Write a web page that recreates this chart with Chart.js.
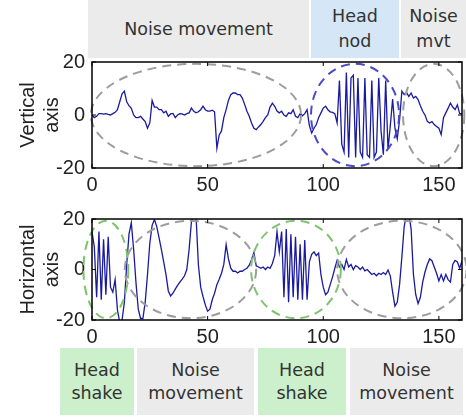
<!DOCTYPE html>
<html>
<head>
<meta charset="utf-8">
<script src="https://cdn.jsdelivr.net/npm/chart.js@4.4.1/dist/chart.umd.min.js"></script>
<style>
  body { margin: 0; background: #fff; }
  #page { position: relative; width: 466px; height: 418px; overflow: hidden; }
  .band { position: absolute; display: flex; flex-direction: column; align-items: center; justify-content: center;
          text-align: center; font-family: 'DejaVu Sans', sans-serif; font-size: 17.5px; color: #333; }
  .noise { background: #ebebeb; }
  .nod { background: #d5e6f7; }
  .shake { background: #cbf0cb; }
  canvas { position: absolute; left: 0; }
</style>
</head>
<body>
<div id="page">
  <canvas id="vert" width="466" height="200" style="top:0"></canvas>
  <canvas id="horiz" width="466" height="148" style="top:200px"></canvas>
</div>
<script>
// head-tracking signals, one sample per time step 0..160
const vertical = [
  0, -1, -0.5, 0.5, 0.5, 0.3, 0.5, 0.2, 0, 0.5,
  1, 2, 5, 8, 9, 5, 3.5, 2.5, 0, -1,
  -1, -0.5, -1.5, -2.5, -5, -3, 5.5, 3, 3, 2,
  2, 0.8, 1.4, -0.5, 0.4, 0.6, -1, 0, 0.5, 0.4,
  0, 0.5, 0.8, 2.6, 1.4, 0.8, 1.2, 2, 3.3, 2,
  1.5, 1.5, 1.8, 1.2, -12.5, -7.5, -6, -1, 2, 5.5,
  7.7, 8.3, 8.3, 7.7, 7.7, 6.4, 4, 1.4, -0.5, -3,
  -5, -5.5, -4.5, -3.6, -2.4, -1, 0, 3, 4.5, 3.3,
  1.5, 0.8, 1.4, 0, -0.5, 0.8, 0.5, 2, -0.5, -1,
  0.5, -0.3, 0.5, 2, -4, -6.8, -5, -3.6, -1, 0.8,
  2.6, 3.3, 2, 1.2, 1, 0.5, -3, 13, -11, -14,
  16, -16, 14, 15, -16, 14, -14, -16, 14, -15,
  -16, 13, -16, -14, 14, -6, -15, 13, -13, -4,
  6, -5, -9, -2, 9, 7.7, 8.5, 7, 8.3, 6.4,
  7, 5.8, 3.5, 1.4, 0, -2.4, -3, -2.5, -3.6, -4.3,
  -5, -7.4, -1, 0.8, 2.6, 4.5, 3, 2, 3.8, 0.5,
  0.5
];
const horizontal = [
  15, 9, -11, 15, -12, 12, -10, 13, -7, -9,
  -4, -16, -21, -20, -13, 2, 14, 18.5, 8, -5,
  -15.7, -19.4, -19.4, -13, -2, 10.4, 17.5, 19.8, 17, 12.5,
  8, 3, -2, -8.5, -10.5, -9.4, -7.8, -6.3, -5, -3.8,
  -2.5, 0, 8, 19, 22, 21, 2, -7, -10.7, -14,
  -16.5, -15.7, -12, -9.4, -6, -3.9, -1.5, 2, 9.8, 4.2,
  0.5, -0.7, -0.7, -1.4, -0.7, -0.7, 0, 0.5, 1.7, 4,
  6.7, 1.5, 1, 0.5, 1, 0, 1, 0.5, 2.4, 5.5,
  15, 7, 15, -11, 16, -13, 14, -11, 13, -12,
  10, -12, 11.7, -12, 3, 6, 7, 5.5, 6.5, -2,
  -7, -10, -9, -6, -3, 0.5, 3.6, 1, 2, 0,
  4, 1, 2, 0, 1.5, 1, 0, 1, -0.5, 0,
  -1, -2, -1.5, -2.5, -1.5, -2, -1.2, -2, -0.2, -2.5,
  -9, -14.5, -13, -6, 5, 17, 22, 22, 16, -2,
  -10, -13.5, -11, -5, -1, 2, 4.2, 3.5, 1, -1.5,
  -4.5, -2, -4.5, -2, -4, -5, 2, 3.6, 3, 0.5,
  3.5
];
const xTicks = [0, 50, 100, 150];
const yTicks = [-20, 0, 20];

// marked movement segments (time units)
const vertZoneStart = [-0.5, 94.7, 134.5];
const vertZoneEnd = [90.4, 132.8, 161];
const vertZoneKind = ['noise', 'nod', 'noise'];
const horizZoneStart = [-3.7, 14.2, 68.8, 106];
const horizZoneEnd = [15.7, 71, 107.6, 162];
const horizZoneKind = ['shake', 'noise', 'shake', 'noise'];

const topBandLabels = [['Noise movement'], ['Head', 'nod'], ['Noise', 'mvt']];
const topBandKind = ['noise', 'nod', 'noise'];
const bottomBandLabels = [['Head', 'shake'], ['Noise', 'movement'], ['Head', 'shake'], ['Noise', 'movement']];
const bottomBandKind = ['shake', 'noise', 'shake', 'noise'];

// band boxes on the page: [left, width]
const topBandBoxes = [[88, 221], [311, 88], [401, 65]];
const bottomBandBoxes = [[60, 74], [137, 117], [258, 88], [350, 113]];

const zoneColors = { noise: '#9d9d9d', nod: '#4a4ac8', shake: '#7cc46c' };
const ZONE_HALF = 19.3;
const tickFont = { family: "'Liberation Sans', Arial, sans-serif", size: 20 };

function addBands(labels, kinds, boxes, top, height, lineHeight) {
    const page = document.getElementById('page');
    labels.forEach((lines, i) => {
        const d = document.createElement('div');
        d.className = 'band ' + kinds[i];
        d.style.left = boxes[i][0] + 'px';
        d.style.width = boxes[i][1] + 'px';
        d.style.top = top + 'px';
        d.style.height = height + 'px';
        d.style.lineHeight = lineHeight + 'px';
        lines.forEach(t => {
            const s = document.createElement('div');
            s.textContent = t;
            d.appendChild(s);
        });
        page.insertBefore(d, page.firstChild);
    });
}

addBands(topBandLabels, topBandKind, topBandBoxes, 0, 58, 25);
addBands(bottomBandLabels, bottomBandKind, bottomBandBoxes, 348, 67, 23);

function zonePlugin(starts, ends, kinds) {
    return {
        id: 'zones',
        afterDatasetsDraw(chart) {
            const { ctx, chartArea: a } = chart;
            const x = chart.scales.x, y = chart.scales.y;
            ctx.save();
            // dashed ellipses around each segment
            starts.forEach((s, i) => {
                const x0 = x.getPixelForValue(s);
                const x1 = x.getPixelForValue(ends[i]);
                const yt = y.getPixelForValue(ZONE_HALF);
                const yb = y.getPixelForValue(-ZONE_HALF);
                ctx.beginPath();
                ctx.ellipse((x0 + x1) / 2, (yt + yb) / 2, (x1 - x0) / 2, (yb - yt) / 2, 0, 0, Math.PI * 2);
                ctx.setLineDash([9, 6]);
                ctx.lineWidth = 2;
                ctx.strokeStyle = zoneColors[kinds[i]];
                ctx.stroke();
            });
            ctx.setLineDash([]);
            // box
            ctx.strokeStyle = '#000';
            ctx.lineWidth = 1.5;
            ctx.strokeRect(a.left, a.top, a.right - a.left, a.bottom - a.top);
            // inward ticks, matlab style
            ctx.lineWidth = 1;
            ctx.beginPath();
            xTicks.forEach(v => {
                const px = x.getPixelForValue(v);
                ctx.moveTo(px, a.bottom); ctx.lineTo(px, a.bottom - 4);
                ctx.moveTo(px, a.top); ctx.lineTo(px, a.top + 4);
            });
            yTicks.forEach(v => {
                const py = y.getPixelForValue(v);
                ctx.moveTo(a.left, py); ctx.lineTo(a.left + 4, py);
                ctx.moveTo(a.right, py); ctx.lineTo(a.right - 4, py);
            });
            ctx.stroke();
            ctx.restore();
        }
    };
}

function makeChart(id, values, title, padTop, axisHeight, zones) {
    return new Chart(document.getElementById(id), {
        type: 'line',
        data: {
            datasets: [{
                data: values.map((v, i) => ({ x: i, y: v })),
                borderColor: '#1a1a9e',
                borderWidth: 1.3,
                pointRadius: 0,
                tension: 0,
                fill: false
            }]
        },
        options: {
            responsive: false,
            animation: false,
            events: [],
            layout: { padding: { top: padTop, right: 4, left: 0, bottom: 0 } },
            plugins: { legend: { display: false }, tooltip: { enabled: false } },
            scales: {
                x: {
                    type: 'linear', min: 0, max: 160,
                    grid: { display: false, drawTicks: false },
                    border: { display: false },
                    afterBuildTicks: s => { s.ticks = xTicks.map(v => ({ value: v })); },
                    afterFit: s => { s.height = axisHeight; },
                    ticks: { font: tickFont, color: '#222', padding: 5, maxRotation: 0, autoSkip: false }
                },
                y: {
                    min: -20, max: 20,
                    grid: { display: false, drawTicks: false },
                    border: { display: false },
                    afterBuildTicks: s => { s.ticks = yTicks.map(v => ({ value: v })); },
                    afterFit: s => { s.width = 92; },
                    ticks: { font: tickFont, color: '#222', padding: 7 },
                    title: {
                        display: true, text: title, color: '#222',
                        font: { family: tickFont.family, size: 20, lineHeight: 1.2 },
                        padding: { top: 16, bottom: 0 }
                    }
                }
            }
        },
        plugins: [zonePlugin(zones[0], zones[1], zones[2])]
    });
}

makeChart('vert', vertical, ['Vertical', 'axis'], 62, 32, [vertZoneStart, vertZoneEnd, vertZoneKind]);
makeChart('horiz', horizontal, ['Horizontal', 'axis'], 13, 28, [horizZoneStart, horizZoneEnd, horizZoneKind]);
</script>
</body>
</html>
